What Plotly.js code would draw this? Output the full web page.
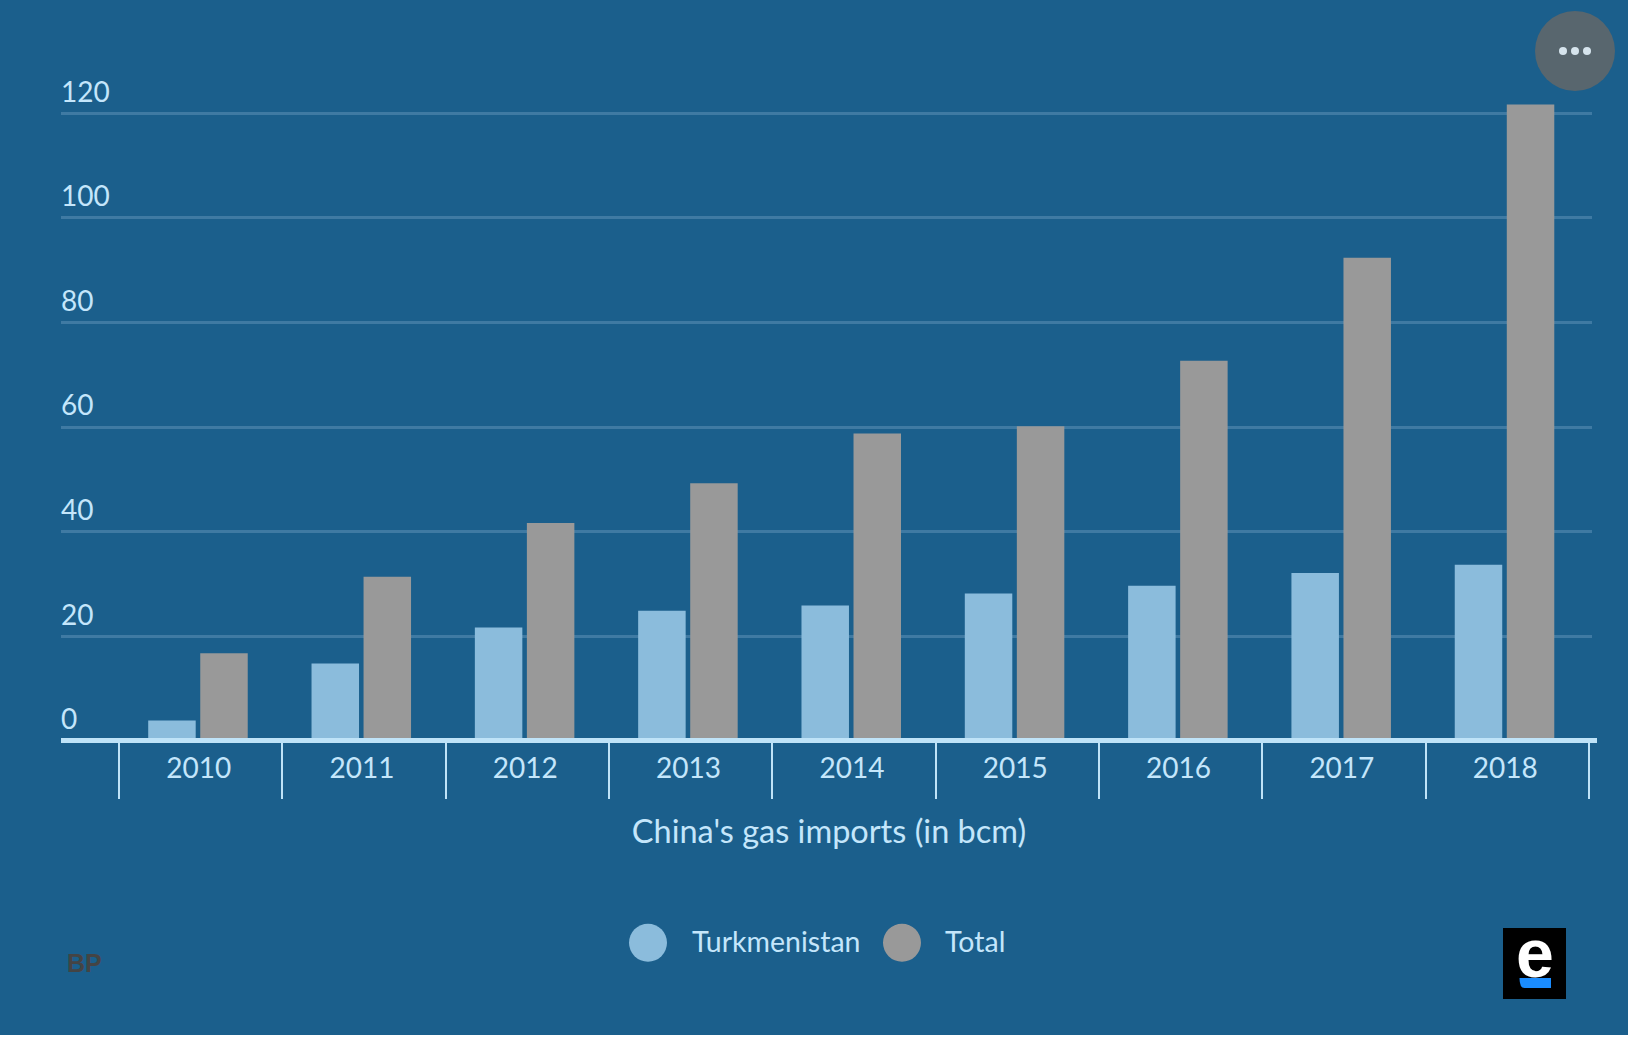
<!DOCTYPE html>
<html><head><meta charset="utf-8">
<script src="https://cdn.plot.ly/plotly-3.0.1.min.js"></script>
<style>html,body{margin:0;padding:0;background:#fff}#c{width:1628px;height:1035px}</style>
</head><body><div id="c"></div>
<script>
const years = ['2010','2011','2012','2013','2014','2015','2016','2017','2018'];
const turkmenistan = [3.9,14.8,21.7,24.9,25.9,28.2,29.7,32.1,33.7];
const total = [16.8,31.4,41.7,49.3,58.8,60.2,72.7,92.4,121.7];
const yTicks = [0,20,40,60,80,100,120];
const xTitle = "China's gas imports (in bcm)";
const source = 'BP';

const BG='#1b5f8c', TXT='#c4e6fb', C1='#8bbcdc', C2='#999999';
const FONT='Lato, "Open Sans", sans-serif';
const W=1628,H=1035,L=61,R=1597,T=60,B=741;
const px=x=>(x-L)/(R-L), py=y=>(B-y)/(B-T);

function circle(cx,cy,r,fill){return {type:'circle',xref:'paper',yref:'paper',x0:px(cx-r),x1:px(cx+r),y0:py(cy+r),y1:py(cy-r),fillcolor:fill,line:{width:0},layer:'above'};}
function rect(x0,y0,x1,y1,fill){return {type:'rect',xref:'paper',yref:'paper',x0:px(x0),x1:px(x1),y0:py(y1),y1:py(y0),fillcolor:fill,line:{width:0},layer:'above'};}
function label(x,y,text,size,color,anchor,family,bold){return {xref:'paper',yref:'paper',x:px(x),y:py(y),text:bold?'<b>'+text+'</b>':text,showarrow:false,xanchor:anchor||'left',yanchor:'middle',borderpad:0,font:{size:size,color:color,family:family||FONT}};}
function underline(x0,y0,x1,y1,fill){const r=5;return {type:'path',xref:'paper',yref:'paper',
  path:`M ${px(x0)} ${py(y0)} L ${px(x1)} ${py(y0)} L ${px(x1)} ${py(y1)} L ${px(x0+r)} ${py(y1)} Q ${px(x0)} ${py(y1)} ${px(x0)} ${py(y0)} Z`,
  fillcolor:fill,line:{width:0},layer:'above'};}

const barW=0.2908;
const traces=[
 {type:'bar',name:'Turkmenistan',x:years,y:turkmenistan,width:barW,offset:-0.321,marker:{color:C1,line:{width:0}},hoverinfo:'x+y+name'},
 {type:'bar',name:'Total',x:years,y:total,width:barW,offset:-0.0024,marker:{color:C2,line:{width:0}},hoverinfo:'x+y+name'}
];
const layout={
 width:W,height:H,paper_bgcolor:BG,plot_bgcolor:BG,showlegend:false,barmode:'overlay',
 margin:{l:L,r:W-R,t:T,b:H-B,pad:0},font:{family:FONT,color:TXT,size:28},
 xaxis:{type:'category',range:[-0.855,8.55],anchor:'free',position:1/(B-T),showline:true,linecolor:'#bfe3f8',linewidth:4.6,
   ticks:'outside',tickson:'boundaries',ticklen:56,tickwidth:2,tickcolor:'#bfe3f8',showgrid:false,zeroline:false,
   ticklabelstandoff:2,ticklabelshift:-2,tickfont:{size:28,color:TXT,family:FONT},
   title:{text:xTitle,standoff:36,font:{size:32.5,color:TXT,family:FONT}},automargin:false,fixedrange:true},
 yaxis:{range:[0,130.2],tickmode:'array',tickvals:yTicks,ticktext:yTicks.map(String),
   ticklabelposition:'inside top',ticklabelstandoff:-3,ticklabelshift:-2,showline:false,ticks:'',zeroline:false,showgrid:true,gridcolor:'#3f7aa3',gridwidth:2.5,
   tickfont:{size:28,color:TXT,family:FONT},automargin:false,fixedrange:true},
 shapes:[
  rect(1592,60,1598,736,BG),
  circle(648,942.7,19,C1),circle(902,942.7,19,C2),
  circle(1575,51,40,'#58666e'),
  circle(1563,51,4,'#d6e4ed'),circle(1575,51,4,'#d6e4ed'),circle(1587,51,4,'#d6e4ed'),
  rect(1503,928,1566,999,'#000000'),
  underline(1519.5,978,1551,988,'#1a8cff')
 ],
 annotations:[
  label(690.7,941,'Turkmenistan',28.5,TXT),
  label(944,941,'Total',28.5,TXT),
  label(66,963,source,25,'#444444','left','"Liberation Sans"',true),
  label(1534.5,953,'e',68,'#ffffff','center','"Liberation Sans"',true)
 ]
};
Plotly.newPlot('c',traces,layout,{displayModeBar:false});
</script></body></html>
